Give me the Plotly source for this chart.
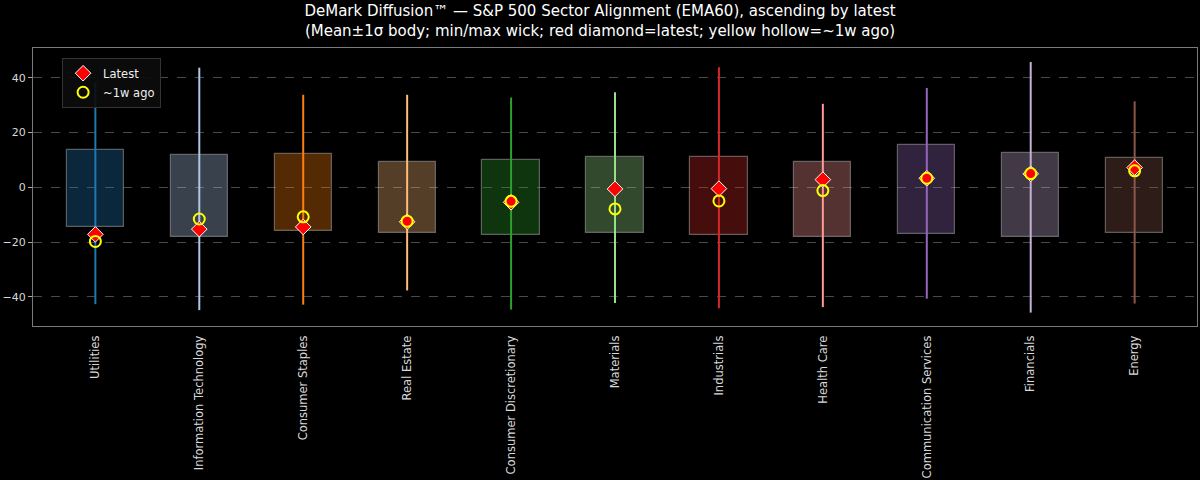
import plotly.graph_objects as go

sectors = ["Utilities", "Information Technology", "Consumer Staples", "Real Estate",
           "Consumer Discretionary", "Materials", "Industrials", "Health Care",
           "Communication Services", "Financials", "Energy"]
mean_vals = [-0.45, -3.25, -1.95, -3.75, -3.75, -2.75, -3.25, -4.4, -0.85, -2.85, -3.0]
sigma_vals = [13.95, 14.95, 14.15, 12.95, 13.85, 13.95, 14.25, 13.7, 16.25, 15.35, 13.6]
min_vals = [-42.7, -44.9, -42.9, -37.7, -44.7, -42.3, -44.2, -43.8, -40.7, -45.8, -42.5]
max_vals = [38.3, 43.7, 33.8, 33.8, 32.8, 34.7, 43.9, 30.5, 36.3, 45.8, 31.4]
latest_vals = [-17.2, -15.3, -14.5, -12.6, -5.5, -0.6, -0.5, 2.8, 3.3, 4.9, 7.2]
week_ago_vals = [-19.8, -11.6, -10.8, -12.4, -5.1, -7.9, -5.0, -1.2, 3.3, 5.0, 6.0]
sector_colors = ["#1f77b4", "#aec7e8", "#ff7f0e", "#ffbb78", "#2ca02c", "#98df8a",
                 "#d62728", "#ff9896", "#9467bd", "#c5b0d5", "#8c564b"]


def rgba(hexcol, a):
    h = hexcol.lstrip("#")
    r, g, b = int(h[0:2], 16), int(h[2:4], 16), int(h[4:6], 16)
    return f"rgba({r},{g},{b},{a})"


x_idx = list(range(len(sectors)))
fig = go.Figure()

# bodies (mean ± 1σ)
fig.add_trace(go.Bar(
    x=x_idx,
    y=[2 * s for s in sigma_vals],
    base=[m - s for m, s in zip(mean_vals, sigma_vals)],
    width=0.55,
    marker=dict(color=[rgba(c, 0.33) for c in sector_colors],
                line=dict(color="rgba(190,190,190,0.45)", width=1.2)),
    showlegend=False,
    hoverinfo="skip",
))

# wicks (min/max)
for i, c in enumerate(sector_colors):
    fig.add_trace(go.Scatter(
        x=[x_idx[i], x_idx[i]], y=[min_vals[i], max_vals[i]],
        mode="lines", line=dict(color=c, width=2),
        showlegend=False, hoverinfo="skip",
    ))

fig.add_trace(go.Scatter(
    x=x_idx, y=latest_vals, mode="markers", name="Latest",
    marker=dict(symbol="diamond", size=12, color="red",
                line=dict(color="white", width=1)),
))
fig.add_trace(go.Scatter(
    x=x_idx, y=week_ago_vals, mode="markers", name="~1w ago",
    marker=dict(symbol="circle-open", size=11, color="yellow",
                line=dict(color="yellow", width=2)),
))

fig.update_layout(
    width=1200, height=480,
    paper_bgcolor="black", plot_bgcolor="black",
    font=dict(family="DejaVu Sans", color="#dddddd", size=11),
    margin=dict(l=33, r=3, t=48, b=154),
    title=dict(
        text="DeMark Diffusion™ — S&P 500 Sector Alignment (EMA60), ascending by latest<br>"
             "(Mean±1σ body; min/max wick; red diamond=latest; yellow hollow=~1w ago)",
        x=0.5, xanchor="center", y=0.966, yanchor="middle",
        font=dict(size=15, color="white"),
    ),
    legend=dict(x=0.025, y=0.965, xanchor="left", yanchor="top",
                bgcolor="rgba(12,12,12,0.9)", bordercolor="#333333", borderwidth=1,
                font=dict(size=11.5, color="#eeeeee"), tracegroupgap=0),
    bargap=0,
)
fig.update_xaxes(
    tickmode="array", tickvals=x_idx, ticktext=sectors, tickangle=-90,
    range=[-0.6, 10.6], showgrid=False, zeroline=False, automargin=False,
    showline=True, mirror=True, linecolor="#7a7a7a", linewidth=1,
    ticks="outside", ticklen=4, tickcolor="black",
    tickfont=dict(size=11.5, color="#d8d8d8"),
)
fig.update_yaxes(
    range=[-50.7, 50.9], tickvals=[-40, -20, 0, 20, 40], automargin=False,
    showgrid=True, gridcolor="#4a4a4a", griddash="dash", gridwidth=1,
    zeroline=False, showline=True, mirror=True, linecolor="#7a7a7a", linewidth=1,
    ticks="outside", ticklen=4, tickcolor="#aaaaaa",
    tickfont=dict(size=11, color="#d8d8d8"),
)

fig.write_html(
    "out.html",
    config={"displayModeBar": False},
    post_script="document.body.style.margin='0';document.body.style.padding='0';"
                "document.body.style.overflow='hidden';document.body.style.background='black';"
                "window.scrollTo(0,0);",
)
